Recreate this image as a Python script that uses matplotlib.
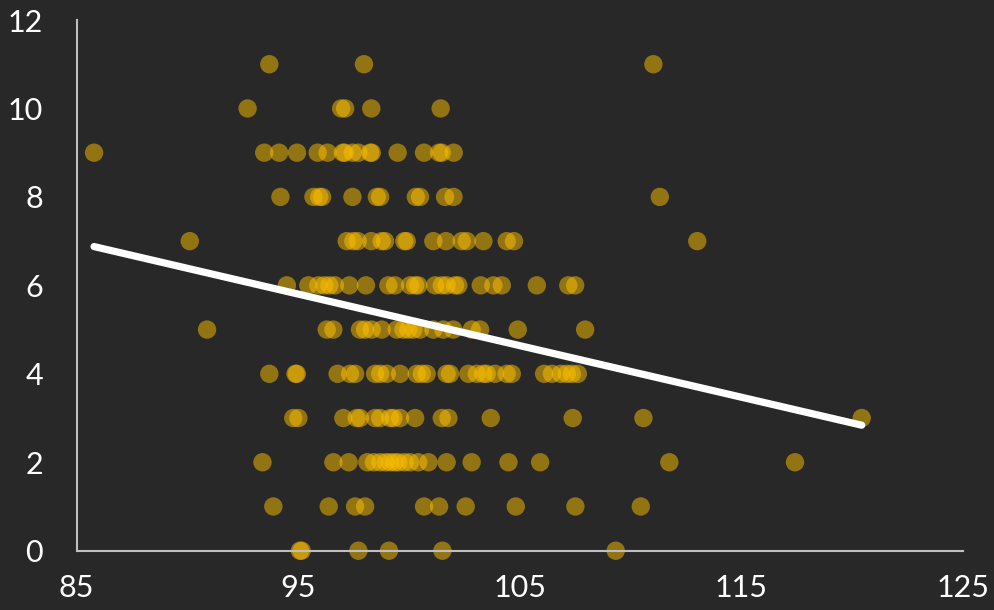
import numpy as np
import matplotlib
matplotlib.use("Agg")
import matplotlib.pyplot as plt

# x values per y-level
x_y11 = [93.70, 97.97, 111.03]
x_y10 = [92.72, 96.94, 97.12, 98.30, 101.43]
x_y9 = [85.79, 93.47, 94.14, 94.95, 95.88, 96.33, 97.02, 97.10, 97.46, 97.72,
        98.25, 98.32, 99.49, 100.68, 101.36, 101.48, 102.02]
x_y8 = [94.20, 95.69, 95.95, 96.08, 97.45, 98.55, 98.70, 100.31, 100.50,
        101.63, 102.01, 111.32]
x_y7 = [90.11, 97.19, 97.49, 97.69, 98.30, 98.77, 98.92, 99.79, 99.90, 101.10,
        101.67, 102.38, 102.61, 103.36, 104.41, 104.74, 113.01]
x_y6 = [94.49, 95.46, 95.91, 96.18, 96.41, 96.66, 97.31, 98.06, 99.07, 99.37,
        100.05, 100.28, 100.42, 101.18, 101.48, 101.70, 102.08, 102.23, 103.24,
        103.81, 104.19, 105.77, 107.19, 107.50]
x_y5 = [90.89, 96.29, 96.59, 97.79, 98.02, 98.32, 98.77, 99.45, 99.75, 99.97,
        100.20, 100.50, 101.10, 101.55, 102.00, 102.83, 103.21, 104.91, 107.95]
x_y4 = [93.70, 94.88, 94.94, 96.78, 97.34, 97.57, 98.47, 98.70, 99.00, 99.60,
        100.35, 100.58, 100.80, 101.70, 101.85, 102.68, 103.06, 103.36, 103.51,
        103.89, 104.41, 104.64, 106.10, 106.45, 106.85, 107.12, 107.35, 107.62]
x_y3 = [94.78, 95.01, 97.04, 97.64, 97.79, 98.47, 98.70, 99.15, 99.30, 99.60,
        100.28, 101.48, 101.78, 103.69, 107.39, 110.58, 120.43]
x_y2 = [93.39, 96.59, 97.28, 98.12, 98.42, 98.70, 98.95, 99.15, 99.35, 99.52,
        99.80, 100.05, 100.42, 100.88, 101.70, 102.83, 104.49, 105.92,
        111.75, 117.42]
x_y1 = [93.88, 96.38, 97.57, 98.02, 100.68, 101.36, 102.56, 104.82, 107.51,
        110.46]
x_y0 = [95.08, 95.16, 97.72, 99.10, 101.51, 109.33]

rows = {11: x_y11, 10: x_y10, 9: x_y9, 8: x_y8, 7: x_y7, 6: x_y6, 5: x_y5,
        4: x_y4, 3: x_y3, 2: x_y2, 1: x_y1, 0: x_y0}

# linear trend line
trend_slope = -0.1166
trend_intercept = 16.88

x_ticks = [85, 95, 105, 115, 125]
y_ticks = [0, 2, 4, 6, 8, 10, 12]

xs = np.concatenate([np.array(v, dtype=float) for v in rows.values()])
ys = np.concatenate([np.full(len(v), k, dtype=float) for k, v in rows.items()])

bg = "#282828"
plt.rcParams['font.family'] = ['Lato', 'DejaVu Sans']

fig = plt.figure(figsize=(9.94, 6.10), dpi=100, facecolor=bg)
ax = fig.add_axes([0.0770, 0.0972, 0.8918, 0.8700])
ax.set_facecolor(bg)

ax.scatter(xs, ys, s=175, color="#FFC000", alpha=0.5, edgecolors="none",
           clip_on=False, zorder=2)

xl = np.array([xs.min(), xs.max()])
ax.plot(xl, trend_slope * xl + trend_intercept, color="white", lw=5.2,
        solid_capstyle="round", zorder=3, clip_on=False)

ax.set_xlim(85, 125)
ax.set_ylim(0, 12)
ax.set_xticks(x_ticks)
ax.set_yticks(y_ticks)
ax.tick_params(axis='both', length=0, labelsize=22, labelcolor="white")
ax.tick_params(axis='x', pad=17)
ax.tick_params(axis='y', pad=24)
for side in ("top", "right"):
    ax.spines[side].set_visible(False)
for side in ("left", "bottom"):
    ax.spines[side].set_color("#bfbfbf")
    ax.spines[side].set_linewidth(1.5)

fig.savefig("out.png", dpi=100, facecolor=bg)
